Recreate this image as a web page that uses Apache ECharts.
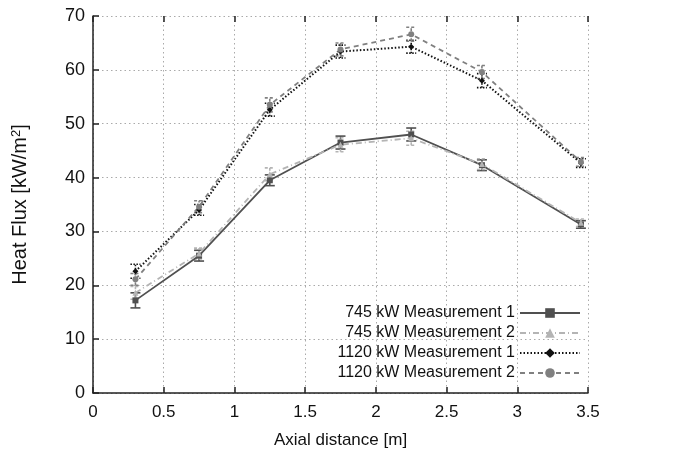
<!DOCTYPE html>
<html><head><meta charset="utf-8">
<script src="https://cdn.jsdelivr.net/npm/echarts@6/dist/echarts.min.js"></script>
<style>html,body{margin:0;padding:0;background:#fff}#c{width:689px;height:456px}</style>
</head><body><div id="c"></div>
<script>
const xs = [0.3, 0.75, 1.25, 1.75, 2.25, 2.75, 3.45];
const names = ['745 kW Measurement 1','745 kW Measurement 2','1120 kW Measurement 1','1120 kW Measurement 2'];
const s745m1 = [17.2, 25.5, 39.5, 46.5, 48.0, 42.3, 31.3];
const s745m2 = [18.6, 25.9, 40.6, 46.1, 47.3, 42.5, 31.6];
const s1120m1 = [22.6, 34.0, 52.6, 63.4, 64.3, 58.0, 42.7];
const s1120m2 = [21.1, 34.6, 53.5, 63.8, 66.6, 59.6, 42.9];
const e745m1 = [1.4, 1.0, 1.0, 1.2, 1.2, 1.0, 0.7];
const e745m2 = [1.2, 1.0, 1.2, 1.3, 1.3, 1.0, 0.7];
const e1120m1 = [1.3, 1.0, 1.2, 1.2, 1.2, 1.3, 0.8];
const e1120m2 = [1.1, 1.1, 1.3, 1.2, 1.3, 1.2, 0.8];
const xTicks = ['0','0.5','1','1.5','2','2.5','3','3.5'];

const vals = [s745m1, s745m2, s1120m1, s1120m2];
const errs = [e745m1, e745m2, e1120m1, e1120m2];
const colors = ['#505050', '#b4b4b4', '#111111', '#808080'];
const lineTypes = ['solid', [6,3,1,3], [1.5,2], [5,4]];
const symbols = ['rect', 'triangle', 'diamond', 'circle'];
const font = 'Liberation Sans, Arial, sans-serif';

const series = [];
vals.forEach((v, i) => {
  series.push({
    name: names[i], type: 'line',
    data: xs.map((x, j) => [x, v[j]]),
    lineStyle: {color: colors[i], width: i === 2 ? 2 : 1.8, type: lineTypes[i]},
    itemStyle: {color: colors[i]},
    symbol: symbols[i], symbolSize: 6, showSymbol: true,
    z: 3
  });
  series.push({
    name: names[i], type: 'custom',
    data: xs.map((x, j) => [x, v[j] - errs[i][j], v[j] + errs[i][j]]),
    renderItem: function (params, api) {
      const lo = api.coord([api.value(0), api.value(1)]);
      const hi = api.coord([api.value(0), api.value(2)]);
      const w = 5;
      const st = {stroke: colors[i], lineWidth: 1.6, lineDash: i === 0 ? null : (i===2?[1.5,1.5]:[3,2])};
      return {type: 'group', children: [
        {type: 'line', shape: {x1: lo[0], y1: lo[1], x2: hi[0], y2: hi[1]}, style: st},
        {type: 'line', shape: {x1: lo[0]-w, y1: lo[1], x2: lo[0]+w, y2: lo[1]}, style: st},
        {type: 'line', shape: {x1: hi[0]-w, y1: hi[1], x2: hi[0]+w, y2: hi[1]}, style: st}
      ]};
    },
    z: 2
  });
});

const chart = echarts.init(document.getElementById('c'), null, {renderer: 'canvas'});
chart.setOption({
  animation: false,
  backgroundColor: '#fff',
  grid: {left: 93, right: 101, top: 16, bottom: 63},
  legend: {
    data: names, orient: 'vertical', align: 'right',
    right: 103, top: 300, itemWidth: 60, itemHeight: 12, itemGap: 4,
    textStyle: {fontFamily: font, fontSize: 16, color: '#111'}
  },
  xAxis: [{
    type: 'value', min: 0, max: 3.5, interval: 0.5,
    name: 'Axial distance [m]', nameLocation: 'middle', nameGap: 39,
    nameTextStyle: {fontFamily: font, fontSize: 17, color: '#111'},
    axisLine: {lineStyle: {color: '#222', width: 1.5}},
    axisTick: {inside: true, length: 6, lineStyle: {color: '#222', width: 1.5}},
    axisLabel: {fontFamily: font, fontSize: 17, color: '#111', margin: 11,
      formatter: v => xTicks[Math.round(v / 0.5)]},
    splitLine: {show: true, lineStyle: {color: '#aaa', type: [1.5, 3], width: 1}}
  }, {
    type: 'value', min: 0, max: 3.5, interval: 0.5, position: 'top',
    axisLine: {show: false},
    axisTick: {inside: true, length: 6, lineStyle: {color: '#222', width: 1.5}},
    axisLabel: {show: false}, splitLine: {show: false}
  }],
  yAxis: {
    type: 'value', min: 0, max: 70, interval: 10,
    name: 'Heat Flux [kW/m{sup|2}]', nameLocation: 'middle', nameGap: 62,
    nameTextStyle: {fontFamily: font, fontSize: 20, color: '#111',
      rich: {sup: {fontSize: 13, verticalAlign: 'bottom', padding: [0,0,8,0], fontFamily: font, color: '#111'}}},
    axisLine: {show: true, lineStyle: {color: '#222', width: 1.5}},
    axisTick: {show: true, inside: true, length: 6, lineStyle: {color: '#222', width: 1.5}},
    axisLabel: {fontFamily: font, fontSize: 18, color: '#111', margin: 8},
    splitLine: {show: true, lineStyle: {color: '#aaa', type: [1.5, 3], width: 1}}
  },
  series: series
});
</script>
</body></html>
